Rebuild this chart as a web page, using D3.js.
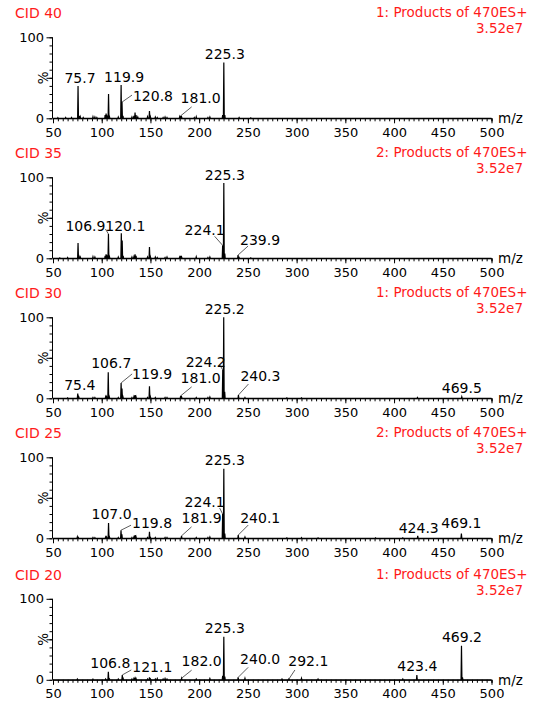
<!DOCTYPE html>
<html><head><meta charset="utf-8">
<script src="https://cdn.jsdelivr.net/npm/d3@7"></script>
<style>
body{margin:0;background:#fff}
text{font-family:"DejaVu Sans",sans-serif}
</style>
</head><body>
<svg id="c" width="536" height="705"></svg>
<script>
// ---- data ----
const cidNames = ["CID 40", "CID 35", "CID 30", "CID 25", "CID 20"];
const functionNames = ["1: Products of 470ES+", "2: Products of 470ES+", "1: Products of 470ES+", "2: Products of 470ES+", "1: Products of 470ES+"];
const intensityNames = ["3.52e7", "3.52e7", "3.52e7", "3.52e7", "3.52e7"];
const xTickValues = [50, 100, 150, 200, 250, 300, 350, 400, 450, 500];
const yTickValues = [0, 50, 100];
const yTickLabels = ["0", "", "100"];
const yAxisTitle = "%";
const xAxisTitle = "m/z";

// [m/z, relative intensity %]
const peaks40 = [[55,0.8],[63,1],[69,1],[75.7,40],[76.8,3],[78,2],[81,1],[91,2],[93,1.5],[95,1],[103.5,4],[104.5,6],[105.5,2],[107,30],[108,2],[117,1.5],[119.9,41],[120.8,20],[121.8,3],[131,1.5],[133,3],[134.2,7],[135.2,4],[137,1.5],[147,2],[149,9],[150,2],[155,1.5],[157,1],[163,1],[165,1.5],[167,1],[180,2],[181,3],[182,1.5],[195,1],[197,2],[209,1],[211,1.5],[224.1,4],[225.3,69],[226.3,4],[241,1],[253,0.5]];
const peaks35 = [[57,0.5],[65,1],[75.7,19],[76.8,2],[78,1.5],[91,2],[93,1.5],[103.5,3],[104.5,5],[105.5,2],[106.9,30],[108,2],[117,1.5],[120.1,31],[121,22],[122,3],[131,1.5],[133,2],[134.2,5],[135.2,3],[147,1.5],[149,14],[150,2],[155,1.5],[157,1],[165,1],[167,1.5],[180,1.5],[181,3],[182,1.5],[197,2],[209,1],[211,1.5],[224.1,16],[225.3,93],[226.3,6],[239.9,4],[241,1],[253,0.5]];
const peaks30 = [[65,0.5],[75.4,6],[76.5,1.5],[91,1],[93,1],[104,2],[105,2],[106.7,32],[107.8,2],[117,1],[119.9,19],[120.8,12],[121.8,2],[131,1],[133,2],[134.2,4],[135.2,2],[147,1],[149,15],[150,2],[155,1],[165,1],[167,1],[181,3],[182,1.5],[197,1],[209,1],[211,1.5],[224.2,35],[225.2,100],[226.2,8],[240.3,4],[247,1],[290,0.5],[305,0.5],[424,1],[469.5,2]];
const peaks25 = [[75,2],[76,1],[91,1],[93,0.8],[104,1.5],[105,1.5],[107,19],[108,1.5],[117,1],[119.8,10],[120.7,5],[131,1],[133,1.5],[134.2,4],[135.2,2],[147,1],[149,8],[150,1],[155,1],[165,1],[167,1],[181.9,3],[197,1],[209,1],[211,1.5],[224.1,30],[225.3,86],[226.3,6],[240.1,4],[247,1.5],[290,0.5],[305,0.8],[322,0.5],[381,0.5],[409,0.5],[424.3,3],[469.1,6]];
const peaks20 = [[75,1],[91,0.8],[104,1],[106.8,10],[108,1],[117,1],[121.1,6],[122,1.5],[131,1],[133,1.5],[134.2,2],[135.2,1.5],[147,1],[149,3],[150,1],[155,1],[157,1.5],[163,1],[165,1.5],[167,1],[182,2],[197,1],[211,1.5],[224.1,5],[225.3,53],[226.3,4],[240,3],[247,2],[285,1],[292.1,1],[305,2],[322,1],[409,1],[423.4,6],[469.2,42],[470.2,3]];

// labelled peaks (m/z)
const labels40 = [75.7, 119.9, 120.8, 181.0, 225.3];
const labels35 = [106.9, 120.1, 224.1, 225.3, 239.9];
const labels30 = [75.4, 106.7, 119.9, 181.0, 224.2, 225.2, 240.3, 469.5];
const labels25 = [107.0, 119.8, 181.9, 224.1, 225.3, 240.1, 424.3, 469.1];
const labels20 = [106.8, 121.1, 182.0, 225.3, 240.0, 292.1, 423.4, 469.2];

// ---- layout (px offsets of label text / leader end from the peak top) ----
const layout40 = [[2,-3],[3,-3],[31,-1,10,-7],[20,-13,11,-9],[1,-3]];
const layout35 = [[-23,-3,-3,-5],[4,-2],[-18,-10,-8,-9],[1,-3],[22,-10,10,-9]];
const layout30 = [[2,-3],[3,-4],[31,-4,11,-9],[20,-13,11,-9],[-17,-3,-3,-5],[1,-3],[22,-14,10,-11],[0,-4]];
const layout25 = [[3,-4],[31,-2,10,-5],[20,-12.5,10,-9],[-18,-7,-3,-6],[1,-3.5],[22,-12,10,-10],[1,-3],[0,-5]];
const layout20 = [[2,-3.6],[30,-3.4,9,-5],[20,-12.4,10,-8],[1,-4],[22,-13.6,10,-10],[19.4,-13.2,6,-9],[0.5,-4],[0.5,-4]];
const panelOffsets = [0, 140, 280, 420, 561.5];

const panels = [
  {peaks: peaks40, labels: labels40, layout: layout40},
  {peaks: peaks35, labels: labels35, layout: layout35},
  {peaks: peaks30, labels: labels30, layout: layout30},
  {peaks: peaks25, labels: labels25, layout: layout25},
  {peaks: peaks20, labels: labels20, layout: layout20}
];

const RED = "#ff1a1a";
const svg = d3.select("#c");
const x = d3.scaleLinear().domain([50, 500]).range([53, 491.5]);
const y = d3.scaleLinear().domain([0, 100]).range([118.3, 37.3]);
const halfWidth = 0.45;

const line = d3.line().x(d => x(d[0])).y(d => y(d[1]));

panels.forEach((p, i) => {
  const g = svg.append("g").attr("transform", `translate(0,${panelOffsets[i]})`);

  // titles
  g.append("text").attr("x", 15).attr("y", 18).attr("fill", RED)
    .attr("font-size", 14).text(cidNames[i]);
  g.append("text").attr("x", 527.5).attr("y", 17.3).attr("fill", RED)
    .attr("text-anchor", "end").attr("font-size", 13.5).text(functionNames[i]);
  g.append("text").attr("x", 523).attr("y", 33.3).attr("fill", RED)
    .attr("text-anchor", "end").attr("font-size", 13.5).text(intensityNames[i]);

  // spectrum profile
  const pts = [[50, 0]];
  p.peaks.slice().sort((a, b) => a[0] - b[0]).forEach(pk => {
    pts.push([pk[0] - halfWidth, 0], [pk[0], pk[1]], [pk[0] + halfWidth, 0]);
  });
  pts.push([500, 0]);
  g.append("path").attr("d", line(pts)).attr("fill", "none")
    .attr("stroke", "#000").attr("stroke-width", 1.2).attr("stroke-linejoin", "miter");

  // x axis: minor ticks
  const xMinor = g.append("g").attr("transform", `translate(0,${y(0)})`)
    .call(d3.axisBottom(x).tickValues(d3.range(50, 501, 5)).tickSize(3).tickFormat(""));
  xMinor.select(".domain").attr("stroke", "#000").attr("stroke-width", 1);
  const xMajor = g.append("g").attr("transform", `translate(0,${y(0)})`)
    .call(d3.axisBottom(x).tickValues(xTickValues).tickSize(5).tickPadding(4).tickFormat(d3.format("d")));
  xMajor.select(".domain").remove();
  xMajor.selectAll("text").attr("font-size", 13).attr("font-family", "DejaVu Sans").attr("fill", "#000");

  g.append("text").attr("x", 498).attr("y", y(0) + 5).attr("font-size", 13.5).text(xAxisTitle);

  // y axis
  const yMinor = g.append("g").attr("transform", `translate(${x(50) - 0.5},0)`)
    .call(d3.axisLeft(y).tickValues(d3.range(0, 101, 10)).tickSize(3).tickFormat(""));
  yMinor.select(".domain").attr("stroke", "#000").attr("d", `M0,${y(100)}V${y(0)}`);
  const yMajor = g.append("g").attr("transform", `translate(${x(50) - 0.5},0)`)
    .call(d3.axisLeft(y).tickValues(yTickValues).tickSize(6).tickPadding(2.5)
      .tickFormat((d, k) => yTickLabels[k]));
  yMajor.select(".domain").remove();
  yMajor.selectAll("text").attr("font-size", 13).attr("font-family", "DejaVu Sans").attr("fill", "#000");

  g.append("text").attr("transform", `translate(${x(50) - 10},${y(50)}) rotate(-90)`)
    .attr("text-anchor", "middle").attr("dy", "0.35em").attr("font-size", 13.5).text(yAxisTitle);

  // peak labels
  p.labels.forEach((mz, k) => {
    const pk = p.peaks.find(q => Math.abs(q[0] - mz) < 0.05);
    const px = x(pk[0]), py = y(pk[1]);
    const lay = p.layout[k];
    if (lay.length > 2) {
      g.append("line").attr("x1", px).attr("y1", py)
        .attr("x2", px + lay[2]).attr("y2", py + lay[3])
        .attr("stroke", "#333").attr("stroke-width", 0.8);
    }
    g.append("text").attr("x", px + lay[0]).attr("y", py + lay[1])
      .attr("text-anchor", "middle").attr("font-size", 14).attr("fill", "#000")
      .text(mz.toFixed(1));
  });
});
</script>
</body></html>
